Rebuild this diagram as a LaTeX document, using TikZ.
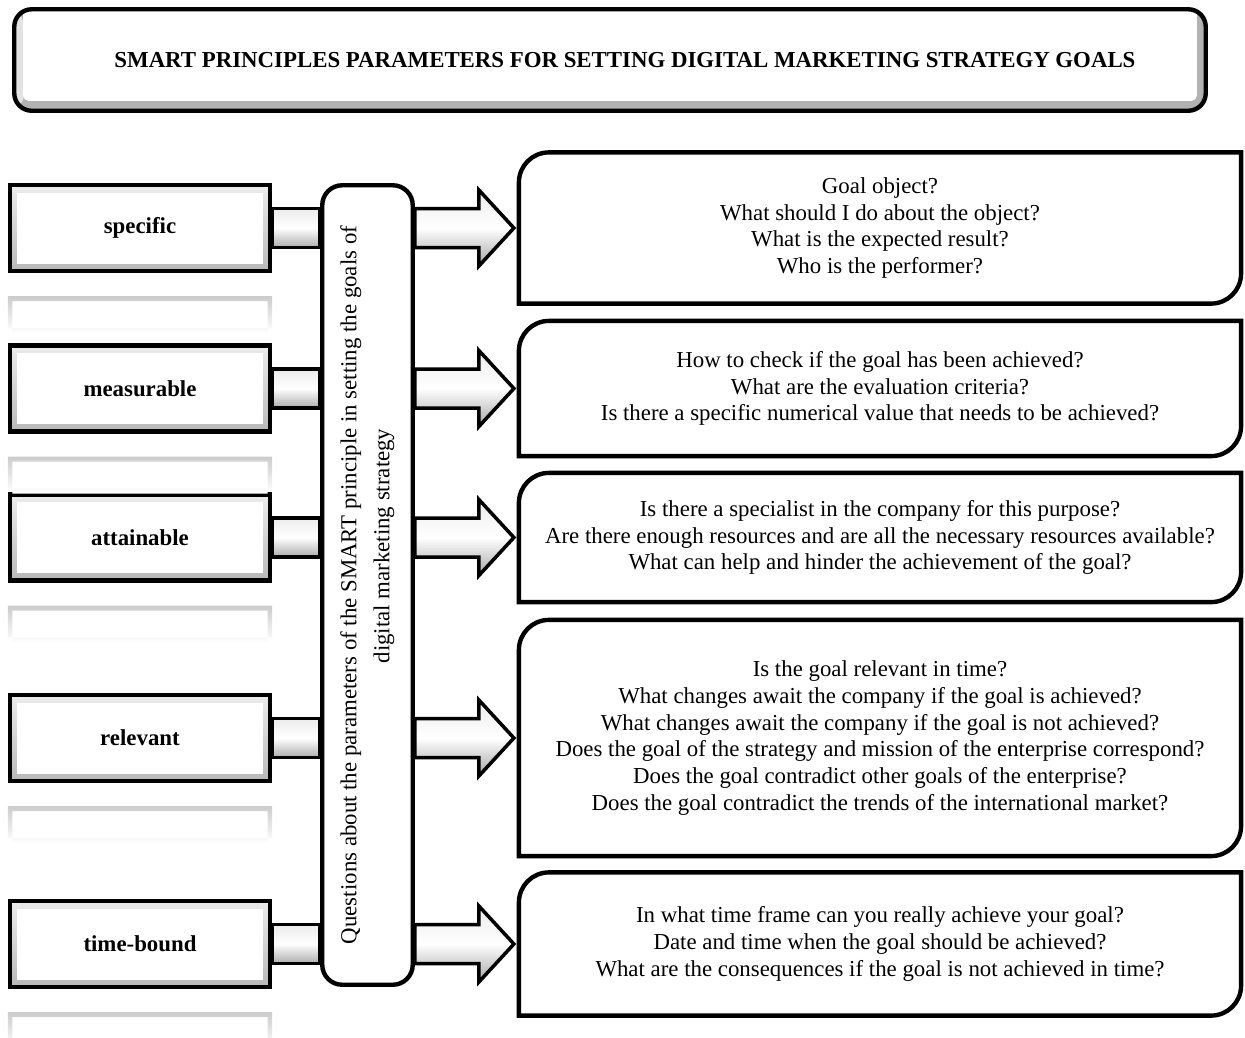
\documentclass[tikz,border=0pt]{standalone}
\usepackage{fontspec}
\setmainfont{Liberation Serif}
\usepackage{graphicx}
\usetikzlibrary{calc}

\begin{document}
\begin{tikzpicture}[
  every node/.style={font=\fontsize{13}{15.2}\selectfont},
  titlebox/.style={draw, line width=2.5pt, rounded corners=0.35cm, minimum width=23.83cm, minimum height=2.03cm,
    font=\fontsize{13}{15.2}\selectfont\bfseries,
    path picture={
      \fill [gray!60] (path picture bounding box.south west) rectangle (path picture bounding box.north east);
      \fill [gray!22] (path picture bounding box.south west) rectangle ([xshift=0.2cm]path picture bounding box.north west);
      \fill [white, rounded corners=0.1cm] ([shift={(0.18,0.2)}]path picture bounding box.south west) rectangle ([shift={(-0.18,0.3)}]path picture bounding box.north east);}},
  leftbox/.style={draw, line width=2.5pt, minimum width=5.2cm, minimum height=1.72cm,
    font=\fontsize{13}{15.2}\selectfont\bfseries,
    path picture={
      \shade [top color=gray!15, bottom color=gray!55] (path picture bounding box.south west) rectangle (path picture bounding box.north east);
      \fill [white] ([shift={(0.15,0.15)}]path picture bounding box.south west) rectangle ([shift={(-0.15,-0.15)}]path picture bounding box.north east);}},
  boxmirror/.style={even odd rule, top color=gray!40, bottom color=white,
    insert path={([yshift=-0.46cm]#1.south west) rectangle ([yshift=-1.1cm]#1.south east)
      ([xshift=0.09cm,yshift=-0.56cm]#1.south west) rectangle ([xshift=-0.09cm,yshift=-1.2cm]#1.south east)}},
  midbox/.style={draw, line width=2.5pt, rounded corners=0.4cm, fill=white, minimum width=1.81cm, minimum height=15.99cm},
  qbox/.style={minimum width=14.43cm, align=center},
  qframe/.style={line width=2.5pt,
    insert path={([yshift=-0.6cm]#1.north west) arc[start angle=180, end angle=90, radius=0.6cm] -- (#1.north east)
      -- ([yshift=0.6cm]#1.south east) arc[start angle=0, end angle=-90, radius=0.6cm] -- (#1.south west) -- cycle}},
  linkbar/.style={line width=2pt, top color=gray!15, bottom color=gray!65, middle color=white,
    to path={($(\tikztostart)+(0,0.39)$) rectangle ($(\tikztotarget)+(0,-0.39)$)}},
  blockarrow/.style={line width=2pt, top color=gray!15, bottom color=gray!70, middle color=white,
    to path={($(\tikztostart)+(0,0.39)$) -- ($(\tikztotarget)+(-0.8,0.39)$) -- ($(\tikztotarget)+(-0.8,0.76)$)
      -- ($(\tikztotarget)+(-0.1,0)$) -- ($(\tikztotarget)+(-0.8,-0.76)$) -- ($(\tikztotarget)+(-0.8,-0.39)$)
      -- ($(\tikztostart)+(0,-0.39)$) -- cycle}}
]
  \useasboundingbox (0,0) rectangle (24.9,-20.74);

  \node [titlebox] (title) at (12.2,-1.2) {\hspace*{0.6cm}SMART PRINCIPLES PARAMETERS FOR SETTING DIGITAL MARKETING STRATEGY GOALS};

  \node [leftbox] (spec) at (2.8,-4.56) {specific};
  \node [leftbox] (meas) at (2.8,-7.77) {measurable};
  \node [leftbox] (att) at (2.8,-10.75) {attainable};
  \node [leftbox] (rel) at (2.8,-14.76) {relevant};
  \node [leftbox] (tb) at (2.8,-18.88) {time-bound};

  \path [boxmirror=spec];
  \path [boxmirror=meas];
  \path [boxmirror=att];
  \path [boxmirror=rel];
  \path [boxmirror=tb];

  \node [midbox] (mid) at (7.35,-11.7) {\rotatebox{90}{\begin{tabular}{@{}c@{}}Questions about the parameters of the SMART principle in setting the goals of\\[3.6pt]\hspace*{1.56cm}digital marketing strategy\end{tabular}}};

  \node [qbox, minimum height=3.01cm] (q1) at (17.6,-4.56) {Goal object?\\What should I do about the object?\\What is the expected result?\\Who is the performer?};
  \node [qbox, minimum height=2.69cm] (q2) at (17.6,-7.77) {How to check if the goal has been achieved?\\What are the evaluation criteria?\\Is there a specific numerical value that needs to be achieved?};
  \node [qbox, minimum height=2.57cm] (q3) at (17.6,-10.75) {Is there a specialist in the company for this purpose?\\Are there enough resources and are all the necessary resources available?\\What can help and hinder the achievement of the goal?};
  \node [qbox, minimum height=4.71cm] (q4) at (17.6,-14.76) {Is the goal relevant in time?\\What changes await the company if the goal is achieved?\\What changes await the company if the goal is not achieved?\\Does the goal of the strategy and mission of the enterprise correspond?\\Does the goal contradict other goals of the enterprise?\\Does the goal contradict the trends of the international market?};
  \node [qbox, minimum height=2.85cm] (q5) at (17.6,-18.88) {In what time frame can you really achieve your goal?\\Date and time when the goal should be achieved?\\What are the consequences if the goal is not achieved in time?};

  \draw [qframe=q1];
  \draw [qframe=q2];
  \draw [qframe=q3];
  \draw [qframe=q4];
  \draw [qframe=q5];

  \draw [linkbar] (spec.east) to (mid.west |- spec.east);
  \draw [linkbar] (meas.east) to (mid.west |- meas.east);
  \draw [linkbar] (att.east) to (mid.west |- att.east);
  \draw [linkbar] (rel.east) to (mid.west |- rel.east);
  \draw [linkbar] (tb.east) to (mid.west |- tb.east);

  \draw [blockarrow] (mid.east |- spec.east) to (q1.west);
  \draw [blockarrow] (mid.east |- meas.east) to (q2.west);
  \draw [blockarrow] (mid.east |- att.east) to (q3.west);
  \draw [blockarrow] (mid.east |- rel.east) to (q4.west);
  \draw [blockarrow] (mid.east |- tb.east) to (q5.west);
\end{tikzpicture}
\end{document}
